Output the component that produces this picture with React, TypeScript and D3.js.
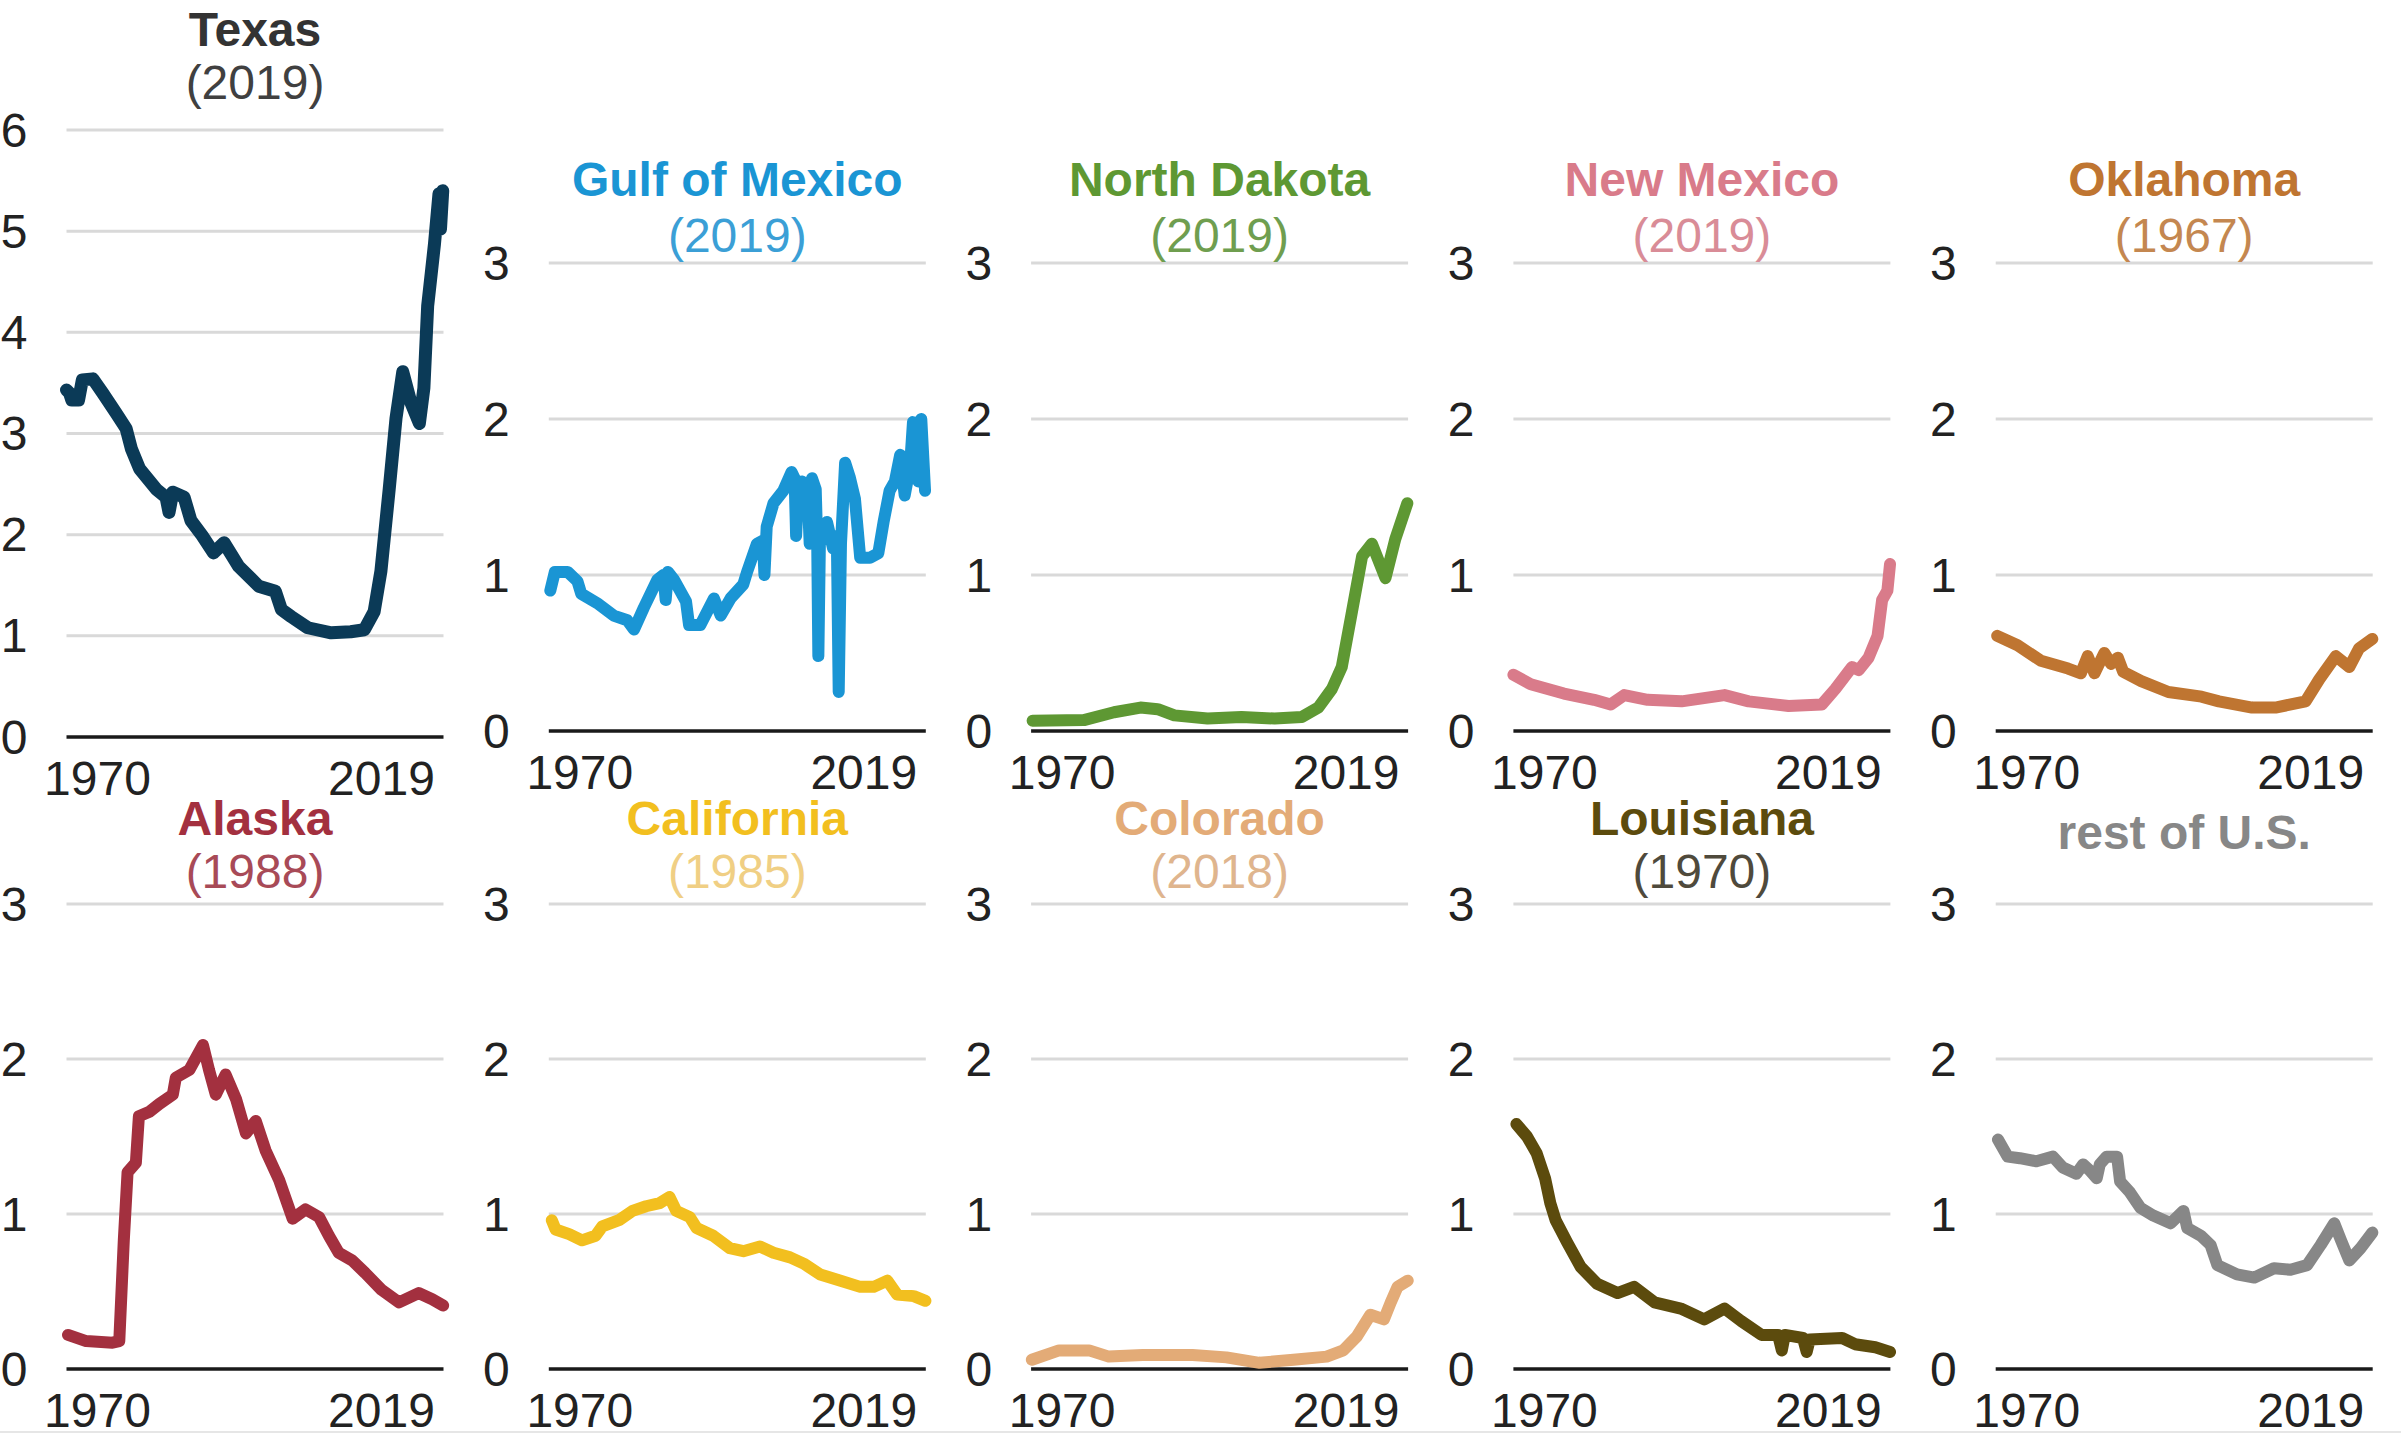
import React from "react";
import * as d3 from "d3";

type Pt = [number, number];

// crude oil production, million barrels per day
const texas: Pt[] = [
  [1970.0, 3.43], [1970.4, 3.4], [1970.7, 3.33], [1971.6, 3.33], [1972.1, 3.53], [1973.5, 3.54],
  [1974.8, 3.4], [1976.6, 3.2], [1977.9, 3.05], [1978.6, 2.85], [1979.7, 2.65], [1981.9, 2.45],
  [1983.2, 2.37], [1983.6, 2.22], [1984.1, 2.42], [1985.6, 2.37], [1986.5, 2.14], [1988.0, 1.99],
  [1989.5, 1.82], [1990.9, 1.92], [1992.8, 1.69], [1995.5, 1.49], [1997.7, 1.44], [1998.5, 1.26],
  [1999.8, 1.19], [2002.0, 1.08], [2005.1, 1.03], [2007.7, 1.04], [2009.5, 1.06], [2010.8, 1.24],
  [2011.7, 1.64], [2012.8, 2.45], [2013.7, 3.15], [2014.6, 3.61], [2015.7, 3.3], [2016.8, 3.1],
  [2017.4, 3.45], [2017.9, 4.26], [2018.8, 4.87], [2019.4, 5.37], [2019.6, 5.02], [2019.9, 5.4],
];

const gulfOfMexico: Pt[] = [
  [1970.2, 0.9], [1970.8, 1.02], [1972.5, 1.02], [1973.8, 0.96], [1974.3, 0.88], [1976.4, 0.82],
  [1978.6, 0.74], [1980.4, 0.71], [1981.3, 0.65], [1982.6, 0.79], [1984.4, 0.97], [1985.2, 1.0],
  [1985.5, 0.84], [1985.8, 1.02], [1986.6, 0.97], [1988.2, 0.83], [1988.6, 0.68], [1990.1, 0.68],
  [1991.9, 0.85], [1992.8, 0.74], [1994.1, 0.85], [1995.8, 0.94], [1996.3, 1.02], [1997.6, 1.2],
  [1998.4, 1.22], [1998.6, 1.0], [1998.9, 1.31], [1999.8, 1.46], [2001.1, 1.54], [2002.2, 1.66],
  [2002.6, 1.62], [2002.8, 1.25], [2003.1, 1.58], [2003.6, 1.6], [2004.3, 1.56], [2004.6, 1.2],
  [2004.9, 1.62], [2005.4, 1.55], [2005.6, 1.2], [2005.75, 0.48], [2005.95, 1.2], [2006.9, 1.34],
  [2007.7, 1.17], [2008.2, 1.25], [2008.45, 0.25], [2008.75, 1.2], [2009.3, 1.72], [2009.9, 1.63],
  [2010.6, 1.49], [2011.3, 1.11], [2012.6, 1.11], [2013.7, 1.14], [2014.4, 1.34], [2015.2, 1.54],
  [2015.9, 1.6], [2016.6, 1.77], [2017.2, 1.51], [2017.9, 1.69], [2018.3, 1.98], [2019.0, 1.6],
  [2019.4, 2.0], [2019.9, 1.54],
];

const northDakota: Pt[] = [
  [1970.2, 0.066], [1977.0, 0.07], [1981.0, 0.12], [1984.5, 0.15], [1986.8, 0.14], [1989.0, 0.1],
  [1993.4, 0.08], [1997.9, 0.09], [2002.3, 0.08], [2005.9, 0.09], [2008.1, 0.15], [2009.9, 0.27],
  [2011.2, 0.41], [2012.5, 0.75], [2013.9, 1.12], [2015.2, 1.2], [2017.0, 0.98], [2018.3, 1.23],
  [2019.9, 1.46],
];

const newMexico: Pt[] = [
  [1970.0, 0.36], [1972.3, 0.3], [1976.7, 0.24], [1980.7, 0.2], [1982.9, 0.17], [1984.7, 0.23],
  [1987.8, 0.2], [1992.3, 0.19], [1998.0, 0.23], [2001.2, 0.19], [2006.5, 0.16], [2010.9, 0.17],
  [2012.7, 0.27], [2014.9, 0.41], [2015.8, 0.39], [2017.1, 0.47], [2018.3, 0.61], [2018.9, 0.84],
  [2019.6, 0.9], [2019.95, 1.07],
];

const oklahoma: Pt[] = [
  [1970.2, 0.61], [1972.9, 0.55], [1976.0, 0.45], [1979.6, 0.4], [1981.3, 0.37], [1982.2, 0.48],
  [1983.1, 0.37], [1984.4, 0.5], [1985.3, 0.43], [1986.2, 0.47], [1986.9, 0.38], [1989.3, 0.32],
  [1992.9, 0.25], [1997.3, 0.22], [1999.6, 0.19], [2004.0, 0.15], [2007.1, 0.15], [2011.1, 0.19],
  [2012.9, 0.33], [2015.1, 0.48], [2016.9, 0.41], [2018.2, 0.53], [2019.95, 0.59],
];

const alaska: Pt[] = [
  [1970.2, 0.22], [1972.6, 0.18], [1976.1, 0.17], [1977.0, 0.18], [1977.6, 0.83], [1978.1, 1.27],
  [1979.2, 1.33], [1979.6, 1.63], [1981.0, 1.66], [1982.3, 1.71], [1984.1, 1.77], [1984.5, 1.88],
  [1986.3, 1.93], [1988.1, 2.09], [1988.9, 1.93], [1989.8, 1.77], [1991.1, 1.9], [1992.5, 1.74],
  [1993.8, 1.52], [1995.1, 1.6], [1996.4, 1.41], [1998.2, 1.22], [2000.0, 0.97], [2001.7, 1.03],
  [2003.5, 0.98], [2004.8, 0.86], [2006.1, 0.75], [2007.9, 0.7], [2009.6, 0.62], [2011.8, 0.51],
  [2014.1, 0.43], [2016.7, 0.49], [2018.5, 0.45], [2019.95, 0.41],
];

const california: Pt[] = [
  [1970.4, 0.96], [1970.9, 0.9], [1972.7, 0.87], [1974.4, 0.83], [1976.2, 0.86], [1977.1, 0.92],
  [1979.3, 0.96], [1981.1, 1.02], [1982.9, 1.05], [1984.7, 1.07], [1986.0, 1.11], [1986.9, 1.02],
  [1988.7, 0.98], [1989.6, 0.91], [1991.8, 0.86], [1994.0, 0.78], [1995.8, 0.76], [1998.0, 0.79],
  [1999.8, 0.75], [2002.0, 0.72], [2003.8, 0.68], [2006.0, 0.61], [2008.7, 0.57], [2011.3, 0.53],
  [2013.1, 0.53], [2014.9, 0.57], [2016.2, 0.48], [2018.4, 0.47], [2019.95, 0.44],
];

const colorado: Pt[] = [
  [1970.1, 0.06], [1973.7, 0.12], [1977.7, 0.12], [1980.3, 0.08], [1984.8, 0.09], [1991.4, 0.09],
  [1995.9, 0.075], [2000.3, 0.04], [2004.8, 0.06], [2009.2, 0.08], [2011.4, 0.12], [2013.2, 0.21],
  [2015.0, 0.35], [2016.8, 0.32], [2017.7, 0.43], [2018.6, 0.53], [2019.95, 0.57],
];

const louisiana: Pt[] = [
  [1970.4, 1.58], [1971.8, 1.5], [1973.1, 1.39], [1974.2, 1.23], [1974.9, 1.07], [1975.6, 0.96],
  [1977.1, 0.82], [1978.9, 0.66], [1981.1, 0.55], [1983.8, 0.49], [1986.0, 0.53], [1988.7, 0.43],
  [1992.2, 0.39], [1995.3, 0.32], [1998.0, 0.39], [2000.2, 0.31], [2002.9, 0.22], [2005.1, 0.22],
  [2005.6, 0.12], [2006.0, 0.22], [2008.4, 0.2], [2008.9, 0.11], [2009.3, 0.19], [2013.6, 0.2],
  [2015.3, 0.16], [2018.0, 0.14], [2019.95, 0.11],
];

const restOfUS: Pt[] = [
  [1970.3, 1.48], [1971.6, 1.37], [1973.2, 1.36], [1975.4, 1.34], [1977.6, 1.37], [1978.9, 1.3],
  [1980.7, 1.26], [1981.6, 1.32], [1982.5, 1.28], [1983.4, 1.23], [1983.8, 1.32], [1984.7, 1.37],
  [1986.1, 1.37], [1986.5, 1.21], [1987.8, 1.14], [1989.2, 1.04], [1990.9, 0.99], [1993.2, 0.94],
  [1994.9, 1.02], [1995.4, 0.91], [1997.2, 0.86], [1998.5, 0.8], [1999.4, 0.67], [2002.0, 0.61],
  [2004.3, 0.59], [2006.9, 0.65], [2009.1, 0.64], [2011.3, 0.67], [2013.1, 0.8], [2014.9, 0.94],
  [2015.8, 0.83], [2016.9, 0.7], [2018.4, 0.78], [2019.95, 0.88],
];

const regionNames = [
  "Texas", "Gulf of Mexico", "North Dakota", "New Mexico", "Oklahoma",
  "Alaska", "California", "Colorado", "Louisiana", "rest of U.S.",
];
const recordYears = ["(2019)", "(2019)", "(2019)", "(2019)", "(1967)", "(1988)", "(1985)", "(2018)", "(1970)", ""];
const series = [texas, gulfOfMexico, northDakota, newMexico, oklahoma, alaska, california, colorado, louisiana, restOfUS];
const yMaxes = [6, 3, 3, 3, 3, 3, 3, 3, 3, 3];
const xTickLabels = ["1970", "2019"];

const lineColors = ["#0b3a57", "#1a95d4", "#5e9833", "#d97b8a", "#bf7531", "#a3303f", "#f2bf1f", "#e3ab77", "#5c4b0d", "#878787"];
const titleColors = ["#333333", "#1a95d4", "#5e9833", "#d97b8a", "#bf7531", "#a3303f", "#f2bf1f", "#e3ab77", "#5c4b0d", "#878787"];
const yearColors = ["#404040", "#3b9fd6", "#6f9e4f", "#d98c97", "#c48750", "#a84a57", "#f0cf84", "#dfb58e", "#4f4a3c", "#878787"];

const W = 2401;
const H = 1436;
const FONT = "'Liberation Sans', Arial, sans-serif";
const FS = 48;
const PLOT_W = 377;

const Panel: React.FC<{ i: number }> = ({ i }) => {
  const col = i % 5;
  const row = Math.floor(i / 5);
  const left = 66.5 + col * 482.3;
  const right = left + PLOT_W;
  const isTexas = i === 0;

  const top = isTexas ? 130 : row === 0 ? 263 : 904;
  const base = isTexas ? 737 : row === 0 ? 731 : 1369;

  const x = d3.scaleLinear().domain([1970, 2020]).range([left, right]);
  const y = d3.scaleLinear().domain([0, yMaxes[i]]).range([base, top]);
  const ticks = y.ticks(yMaxes[i]);

  const line = d3
    .line<Pt>()
    .x((d) => x(d[0]))
    .y((d) => y(d[1]));

  const cx = (left + right) / 2;
  const hasYear = recordYears[i] !== "";
  const titleY = isTexas ? 46 : row === 0 ? 196 : hasYear ? 835 : 849;
  const yearY = isTexas ? 99 : row === 0 ? 252 : 888;

  return (
    <g>
      {ticks.map((t) =>
        t === 0 ? null : (
          <line key={t} x1={left} x2={right} y1={y(t)} y2={y(t)} stroke="#d9d9d9" strokeWidth={3} />
        )
      )}
      {ticks.map((t) => (
        <text
          key={"l" + t}
          x={left - 39}
          y={y(t)}
          textAnchor="end"
          dominantBaseline="central"
          fontSize={FS}
          fill="#222"
        >
          {t}
        </text>
      ))}
      <line x1={left} x2={right} y1={y(0)} y2={y(0)} stroke="#1a1a1a" strokeWidth={3.5} />
      <text x={x(1970) + 31} y={y(0) + 58} textAnchor="middle" fontSize={FS} fill="#222">
        {xTickLabels[0]}
      </text>
      <text x={x(2020) - 62} y={y(0) + 58} textAnchor="middle" fontSize={FS} fill="#222">
        {xTickLabels[1]}
      </text>
      <path
        d={line(series[i]) ?? ""}
        fill="none"
        stroke={lineColors[i]}
        strokeWidth={isTexas ? 13 : 12}
        strokeLinejoin="round"
        strokeLinecap="round"
      />
      <text x={cx} y={titleY} textAnchor="middle" fontSize={FS} fontWeight="bold" fill={titleColors[i]}>
        {regionNames[i]}
      </text>
      {hasYear && (
        <text x={cx} y={yearY} textAnchor="middle" fontSize={FS} fill={yearColors[i]}>
          {recordYears[i]}
        </text>
      )}
    </g>
  );
};

export default function App() {
  return (
    <svg
      width={W}
      height={H}
      viewBox={`0 0 ${W} ${H}`}
      style={{ position: "absolute", left: 0, top: 0, background: "#fff" }}
      fontFamily={FONT}
    >
      <rect width={W} height={H} fill="#fff" />
      <line x1={0} x2={W} y1={1432} y2={1432} stroke="#e6e6e6" strokeWidth={2} />
      {regionNames.map((_, i) => (
        <Panel key={i} i={i} />
      ))}
    </svg>
  );
}
